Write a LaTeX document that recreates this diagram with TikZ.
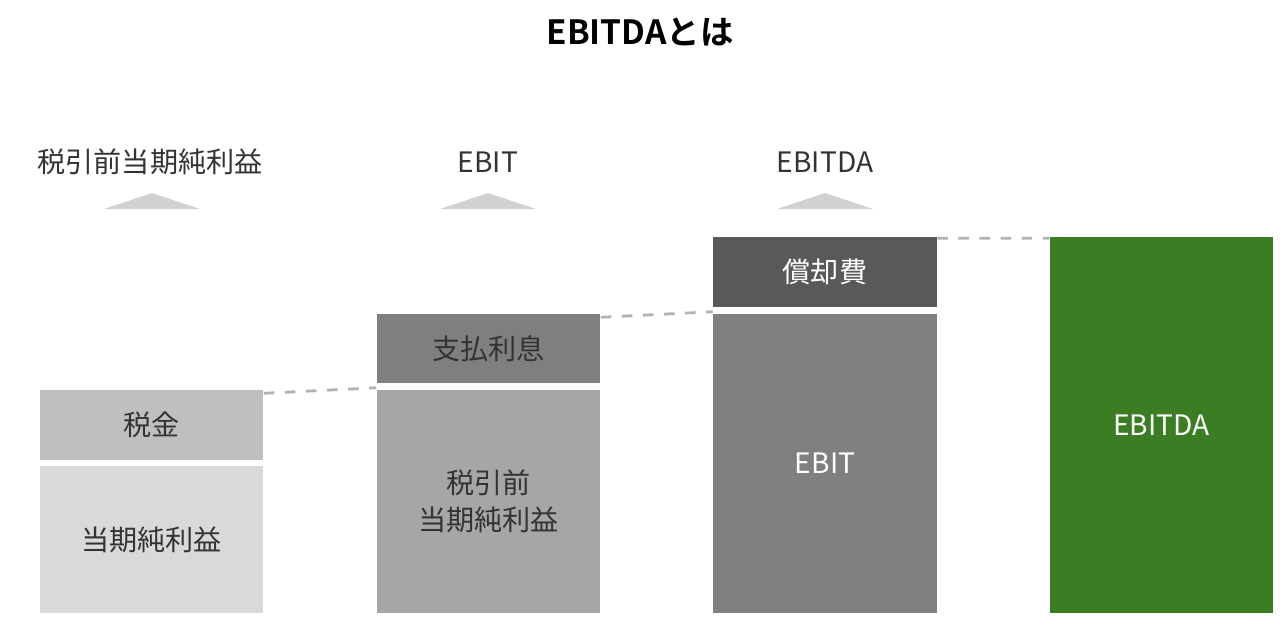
\documentclass[tikz,border=0pt]{standalone}
\usepackage{fontspec}
\setmainfont{Noto Sans CJK JP}[BoldFont={Noto Sans CJK JP Bold}]
\usetikzlibrary{positioning}
\definecolor{gnet}{HTML}{D9D9D9}
\definecolor{gtax}{HTML}{BFBFBF}
\definecolor{gpre}{HTML}{A6A6A6}
\definecolor{gint}{HTML}{7F7F7F}
\definecolor{gebit}{HTML}{808080}
\definecolor{gdep}{HTML}{595959}
\definecolor{ebitdagreen}{HTML}{3B7D23}
\tikzset{
  block/.style={minimum width=2.23cm, inner sep=0pt, align=center, font=\fontsize{8}{10.5}\selectfont, text=black!80},
  dark/.style={text=white},
  head/.style={font=\fontsize{8}{10}\selectfont, text=black!80},
  marker/.style={fill=black!18, draw=none},
  link/.style={dashed, thick, black!30}
}
\begin{document}
\begin{tikzpicture}[x=0.01cm, y=-0.01cm]
	\useasboundingbox (0,0) rectangle (1280,620);
	\node[font=\bfseries\fontsize{9.5}{11}\selectfont] (title) at (640,32) {EBITDAとは};
	
	% column 1
	\node[block, fill=gnet, minimum height=1.47cm] (net) at (151.5,539.5) {当期純利益};
	\node[block, fill=gtax, minimum height=0.70cm] (tax) at (151.5,425) {税金};
	% column 2
	\node[block, fill=gpre, minimum height=2.23cm] (pre) at (488.5,501.5) {税引前\\当期純利益};
	\node[block, fill=gint, minimum height=0.69cm] (int) at (488.5,348.5) {支払利息};
	% column 3
	\node[block, dark, fill=gebit, minimum height=2.99cm] (ebit) at (825,463.5) {EBIT};
	\node[block, dark, fill=gdep, minimum height=0.70cm] (dep) at (825,272) {償却費};
	% column 4
	\node[block, dark, fill=ebitdagreen, minimum height=3.76cm] (ebitda) at (1161.5,425) {EBITDA};
	
	% headings
	\node[head] (h1) at (150,162) {税引前当期純利益};
	\node[head] (h2) at (488,162) {EBIT};
	\node[head] (h3) at (825,162) {EBITDA};
	\foreach \x in {152,488,825}
		\fill[marker] (\x-48,209) -- (\x,193) -- (\x+48,209) -- cycle;
	
	\draw[link] ([yshift=-0.04cm]tax.north east) -- ([yshift=-0.04cm]int.south west);
	\draw[link] ([yshift=-0.04cm]int.north east) -- ([yshift=-0.04cm]dep.south west);
	\draw[link] ([yshift=-0.02cm]dep.north east) -- ([yshift=-0.02cm]ebitda.north west);
\end{tikzpicture}
\end{document}
